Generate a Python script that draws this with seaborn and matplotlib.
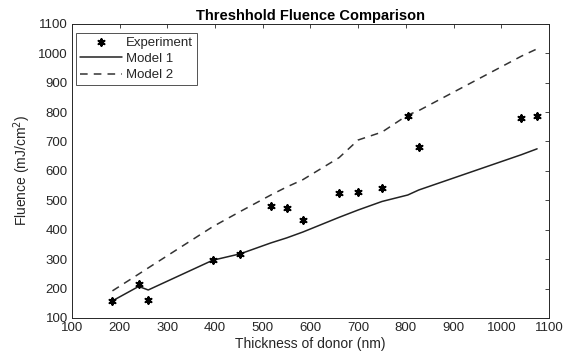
import matplotlib
matplotlib.use("Agg")
import matplotlib.pyplot as plt
import seaborn as sns
import pandas as pd

thickness = [185, 240, 260, 395, 453, 517, 550, 584, 660, 700, 750, 804, 827, 1042, 1075]
experiment = [158, 216, 160, 296, 318, 480, 474, 433, 524, 529, 542, 785, 681, 781, 785]
model1 = [158, 207, 195, 296, 318, 355, 372, 392, 442, 467, 496, 518, 535, 655, 675]
model2 = [192, 249, 270, 410, 462, 518, 545, 570, 645, 705, 732, 790, 805, 990, 1015]

df = pd.DataFrame({"thickness": thickness, "experiment": experiment,
                   "model1": model1, "model2": model2})

sns.set_theme(style="white")
plt.rcParams["font.family"] = ["Liberation Sans", "DejaVu Sans"]

fig = plt.figure(figsize=(5.66, 3.56), dpi=100)
ax = fig.add_axes([0.127, 0.107, 0.843, 0.826])

sns.scatterplot(data=df, x="thickness", y="experiment", ax=ax, marker=(6, 2, 0),
                s=22, color="black", linewidth=1.5, label="Experiment", zorder=3)
sns.lineplot(data=df, x="thickness", y="model1", ax=ax, color="#222222",
             linewidth=1.1, label="Model 1")
sns.lineplot(data=df, x="thickness", y="model2", ax=ax, color="#333333",
             linewidth=1.1, linestyle=(0, (5, 4)), label="Model 2")

ax.set_xlim(100, 1100)
ax.set_ylim(100, 1100)
ax.set_xticks(range(100, 1101, 100))
ax.set_yticks(range(100, 1101, 100))
ax.tick_params(direction="in", length=3, width=0.6, labelsize=9.5,
               top=True, right=True, colors="#262626", pad=3)
for s in ax.spines.values():
    s.set_color("#262626")
    s.set_linewidth(0.7)
ax.set_xlabel("Thickness of donor (nm)", fontsize=10, color="#262626", labelpad=2)
ax.set_ylabel("Fluence (mJ/cm$^2$)", fontsize=10, color="#262626", labelpad=4)
ax.set_title("Threshhold Fluence Comparison", fontsize=10.5, fontweight="bold",
             color="black", pad=3)

leg = ax.legend(loc="upper left", bbox_to_anchor=(0.008, 0.97), fontsize=9.5,
                frameon=True, fancybox=False, edgecolor="#262626",
                borderpad=0.3, labelspacing=0.3, handlelength=3.2,
                handletextpad=0.3, borderaxespad=0)
leg.get_frame().set_linewidth(0.7)

fig.savefig("out.png", dpi=100)
